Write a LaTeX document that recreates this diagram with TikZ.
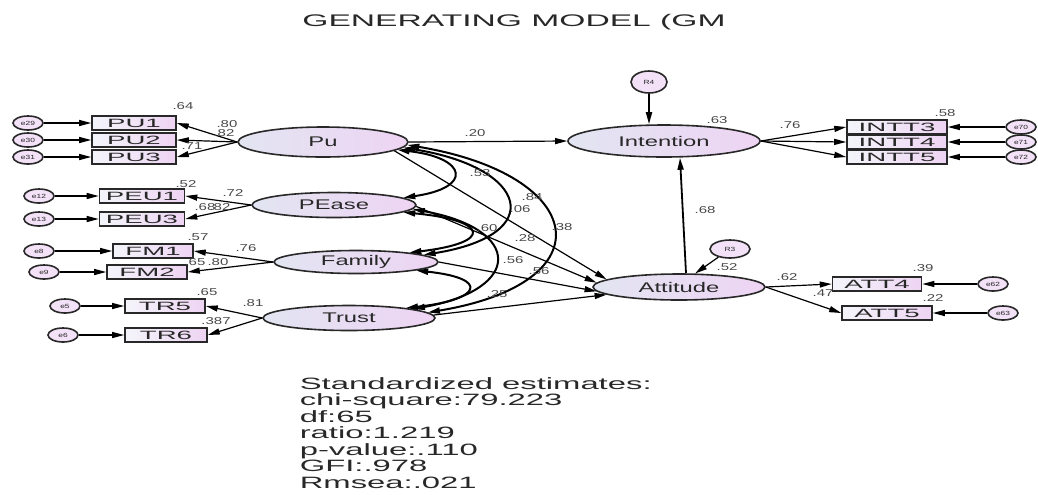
\documentclass[tikz,border=0pt]{standalone}
\usepackage{fontspec}
\setmainfont{Liberation Sans}
\usepackage{graphicx}
\usepackage{xcolor}
\usetikzlibrary{arrows.meta,shapes.geometric}
\definecolor{latL}{RGB}{226,229,242}
\definecolor{latR}{RGB}{238,212,243}
\definecolor{ink}{RGB}{40,40,40}
\newcommand{\strx}[2]{\scalebox{#1}[1]{#2}}

\begin{document}
\begin{tikzpicture}[x=0.5pt,y=0.5pt,>={Triangle[length=6pt,width=3pt]},
lat/.style={ellipse,draw=ink,line width=0.8pt,left color=latL,right color=latR,inner sep=0pt,text=ink,font=\fontsize{7}{8}\selectfont},
obs/.style={rectangle,draw=ink,line width=0.8pt,left color=latL!40,right color=latR,minimum height=7pt,inner sep=0pt,text=ink,font=\fontsize{6}{7}\selectfont},
err/.style={ellipse,draw=ink,line width=0.8pt,fill=latR!70,minimum width=15pt,minimum height=7pt,inner sep=0pt,text=ink,font=\fontsize{3}{3}\selectfont},
num/.style={inner sep=0pt,text=ink!85,xscale=1.5,font=\fontsize{5}{6}\selectfont},
reg/.style={->,line width=0.6pt},
cov/.style={<->,line width=1pt}]
\path[use as bounding box,clip](0,0)rectangle(1038,-494);

\node[text=ink,xscale=2,font=\fontsize{8.4}{10}\selectfont](title)at(514,-22){GENERATING MODEL (GM};

\node[lat,minimum width=85pt,minimum height=15pt](pu)at(323,-142){\strx{1.7}{Pu}};
\node[lat,minimum width=82pt,minimum height=12.5pt](pease)at(334,-205){\strx{1.7}{PEase}};
\node[lat,minimum width=82pt,minimum height=11.5pt](family)at(356,-262){\strx{1.7}{Family}};
\node[lat,minimum width=86pt,minimum height=12.5pt](trust)at(349,-318){\strx{1.7}{Trust}};
\node[lat,minimum width=96pt,minimum height=16pt](intention)at(664,-141){\strx{1.7}{Intention}};
\node[lat,minimum width=86pt,minimum height=13pt](attitude)at(679,-287){\strx{1.7}{Attitude}};
\node[err,minimum width=18pt,minimum height=11pt](r4)at(649,-82){\strx{1.4}{R4}};
\node[err,minimum width=20pt,minimum height=9pt](r3)at(730,-249){\strx{1.4}{R3}};

\foreach \n/\t/\e/\x/\ex/\y/\w in {pu1/PU1/e29/134/28/123/42,pu2/PU2/e30/134/28/140/42,pu3/PU3/e31/134/28/157/42,
  peu1/PEU1/e12/142/39/196/42.5,peu3/PEU3/e13/142/39/219/42.5,fm1/FM1/e8/153/39/251/40,fm2/FM2/e9/147/44/272/40,
  tr5/TR5/e5/165/65/306/40,tr6/TR6/e6/166/63/335/41,
  intt3/INTT3/e70/897/1021/127/50,intt4/INTT4/e71/897/1021/142/50,intt5/INTT5/e72/897/1021/157/50,
  att4/ATT4/e62/877/993/284/44.5,att5/ATT5/e63/887/1003/313/45}{
  \node[obs,minimum width=\w pt](\n)at(\x,-\y){\strx{2.3}{\t}};
  \node[err](\e)at(\ex,-\y){\strx{1.4}{\e}};
  \draw[reg](\e)--(\n);
}

\foreach \b in {pu1,pu2,pu3}\draw[reg](pu.west)--(\b.east);
\foreach \b in {peu1,peu3}\draw[reg](pease.west)--(\b.east);
\foreach \b in {fm1,fm2}\draw[reg](family.west)--(\b.east);
\foreach \b in {tr5,tr6}\draw[reg](trust.west)--(\b.east);
\foreach \b in {intt3,intt4,intt5}\draw[reg](intention.east)--(\b.west);
\foreach \b in {att4,att5}\draw[reg](attitude.east)--(\b.west);

\draw[reg](pu.east)--(intention.west);
\draw[reg](pu.-7)--(attitude.174);
\draw[reg](pease.-1)--(attitude.177);
\draw[reg](family.east)--(attitude.183);
\draw[reg](trust.2)--(attitude.186);
\draw[reg,line width=0.9pt]([xshift=3.5pt]attitude.north)--([xshift=8pt]intention.south);
\draw[reg,line width=0.9pt](r4.south)--(r4|-intention.north);
\draw[reg](r3)--(attitude.40);

\draw[cov](pu.-6)..controls +(70,-8)and +(70,10)..(pease.6);
\draw[cov](pu.-4)..controls +(125,-20)and +(125,20)..(family.6);
\draw[cov](pu.-2)..controls +(180,-30)and +(180,30)..(trust.4);
\draw[cov](pease.-6)..controls +(85,-8)and +(85,10)..(family.10);
\draw[cov](pease.-3)..controls +(110,-20)and +(110,20)..(trust.8);
\draw[cov](family.-8)..controls +(75,-8)and +(75,8)..(trust.10);

\foreach \t/\x/\y in {.64/183/106,.80/227/124,.82/224/133,.71/192/146,.52/186/184,.72/233/193,.68/205/207,.82/220/207,
  .57/198/237,.76/246/248,.65/195/262,.80/218/262,.65/207/292,.81/253/303,.387/216/321,
  .20/475/133,.53/480/173,.84/532/197,.06/520/209,.38/562/227,.60/487/228,.28/525/238,.56/513/260,.56/539/271,.25/497/294,
  .63/717/120,.76/790/125,.58/945/113,.68/705/210,.52/727/267,.62/787/277,.47/823/293,.39/923/268,.22/933/298}
  \node[num](lab\x-\y)at(\x,-\y){\t};

\node[anchor=north west,align=left,inner sep=0pt,text=ink,xscale=2,font=\fontsize{8.2}{8.25}\selectfont](fit)at(299,-377){Standardized estimates:\\chi-square:79.223\\df:65\\ratio:1.219\\p-value:.110\\GFI:.978\\Rmsea:.021};
\end{tikzpicture}
\end{document}
